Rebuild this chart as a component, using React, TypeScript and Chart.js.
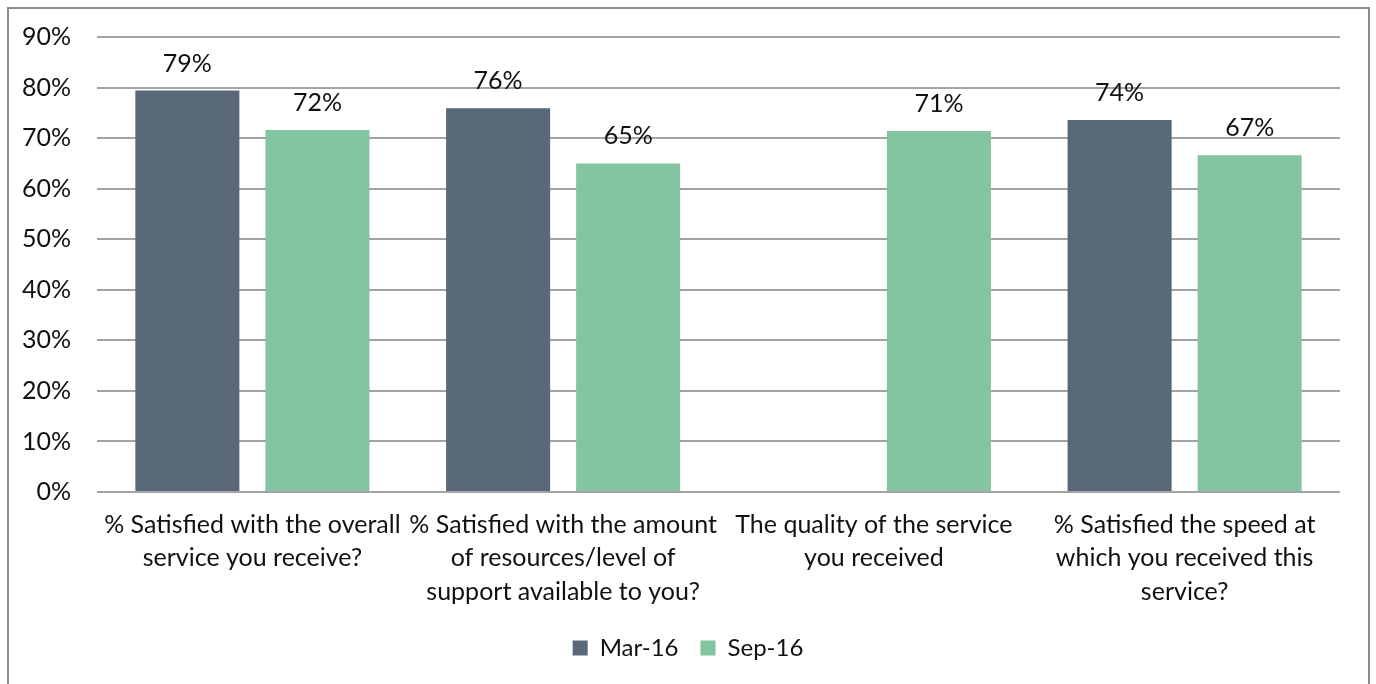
import React, { useEffect, useRef } from "react";
import { Chart, registerables } from "chart.js";

Chart.register(...registerables);

const categories: string[][] = [
  ["% Satisfied with the overall", "service you receive?"],
  ["% Satisfied with the amount", "of resources/level of", "support available to you?"],
  ["The quality of the service", "you received"],
  ["% Satisfied the speed at", "which you received this", "service?"],
];

const seriesNames = ["Mar-16", "Sep-16"];
const mar16: (number | null)[] = [79.4, 75.9, null, 73.6];
const sep16: (number | null)[] = [71.6, 65.0, 71.4, 66.6];
const dataLabelsMar: (string | null)[] = ["79%", "76%", null, "74%"];
const dataLabelsSep: (string | null)[] = ["72%", "65%", "71%", "67%"];
const yTicks = [0, 10, 20, 30, 40, 50, 60, 70, 80, 90];

const FONT = "Lato";
const TEXT = "#111111";

const barLabels = {
  id: "barLabels",
  afterDatasetsDraw(chart: any) {
    const ctx = chart.ctx;
    const all = [dataLabelsMar, dataLabelsSep];
    ctx.save();
    ctx.font = `25px ${FONT}`;
    ctx.fillStyle = TEXT;
    ctx.textAlign = "center";
    ctx.textBaseline = "middle";
    chart.data.datasets.forEach((_ds: any, i: number) => {
      const meta = chart.getDatasetMeta(i);
      meta.data.forEach((bar: any, j: number) => {
        const txt = all[i][j];
        if (txt == null) return;
        ctx.fillText(txt, bar.x, bar.y - 27);
      });
    });
    ctx.restore();
  },
};

export default function App() {
  const ref = useRef<HTMLCanvasElement | null>(null);

  useEffect(() => {
    if (!ref.current) return;
    const chart = new Chart(ref.current, {
      type: "bar",
      data: {
        labels: categories,
        datasets: [
          {
            label: seriesNames[0],
            data: mar16,
            backgroundColor: "#586878",
            borderWidth: 0,
            categoryPercentage: 0.837,
            barPercentage: 0.8,
            yAxisID: "y",
          },
          {
            label: seriesNames[1],
            data: sep16,
            backgroundColor: "#84C4A0",
            borderWidth: 0,
            categoryPercentage: 0.837,
            barPercentage: 0.8,
            yAxisID: "y",
          },
        ],
      },
      options: {
        responsive: false,
        animation: false,
        devicePixelRatio: 1,
        layout: { padding: { left: 0, right: 0, top: 37, bottom: 14 } },
        plugins: {
          legend: {
            position: "bottom",
            labels: {
              boxWidth: 15,
              boxHeight: 15,
              padding: 22,
              color: TEXT,
              font: { family: FONT, size: 24 },
            },
          },
          tooltip: { enabled: false },
        },
        scales: {
          x: {
            grid: { display: false, drawTicks: false },
            border: { display: false },
            ticks: {
              autoSkip: false,
              maxRotation: 0,
              minRotation: 0,
              padding: 16,
              color: TEXT,
              font: { family: FONT, size: 25, lineHeight: "33.5px" },
            },
            afterFit: (s: any) => {
              s.height = 122;
            },
          },
          y: {
            min: 0,
            max: 90,
            afterBuildTicks: (s: any) => {
              s.ticks = yTicks.map((v) => ({ value: v }));
            },
            grid: { color: "#a3a3a3", lineWidth: 2, drawTicks: false },
            border: { display: false },
            ticks: {
              padding: 26,
              color: TEXT,
              font: { family: FONT, size: 25 },
              callback: (v: any) => `${v}%`,
            },
            afterFit: (s: any) => {
              s.width = 97;
              s.paddingTop = 10;
              s.paddingBottom = 10;
            },
          },
          y2: {
            position: "right",
            display: true,
            grid: { display: false, drawTicks: false },
            border: { display: false },
            ticks: { display: false },
            afterFit: (s: any) => {
              s.width = 36;
            },
          },
        },
      },
      plugins: [barLabels],
    });
    return () => chart.destroy();
  }, []);

  return (
    <>
      <div
        style={{
          position: "fixed",
          left: 7,
          top: 7,
          width: 1363,
          height: 740,
          border: "2px solid #8c8c8c",
          boxSizing: "border-box",
        }}
      />
      <canvas
        ref={ref}
        width={1376}
        height={684}
        style={{ position: "fixed", left: 0, top: 0, width: 1376, height: 684 }}
      />
    </>
  );
}
